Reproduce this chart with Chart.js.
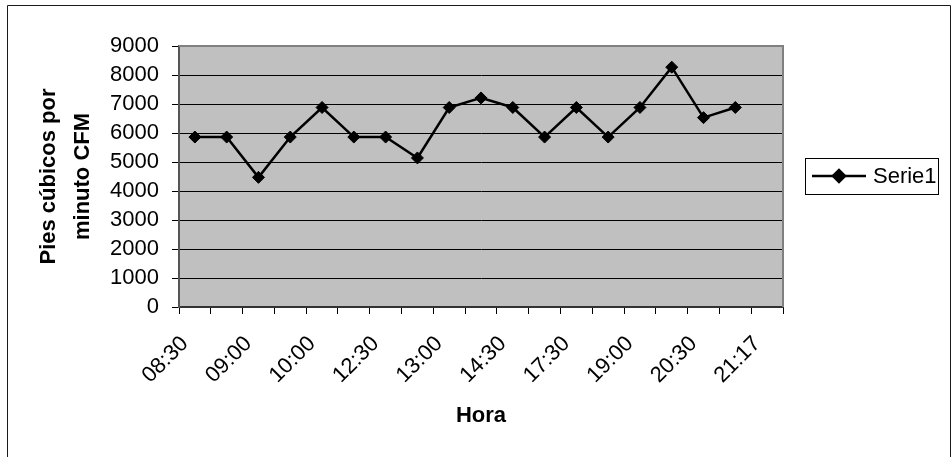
<!DOCTYPE html>
<html>
<head>
<meta charset="utf-8">
<script src="https://cdn.jsdelivr.net/npm/chart.js@4/dist/chart.umd.min.js"></script>
<style>
  html, body { margin: 0; padding: 0; background: #ffffff; }
  #wrap { width: 952px; height: 457px; position: relative; }
</style>
</head>
<body>
<div id="wrap"><canvas id="c" width="952" height="457"></canvas></div>
<script>
// Hour of each reading (only every other category is labelled on the axis)
const horas = ['08:30', '', '09:00', '', '10:00', '', '12:30', '', '13:00', '',
               '14:30', '', '17:30', '', '19:00', '', '20:30', '', '21:17'];

// Air flow, cubic feet per minute
const cfm = [5860, 5860, 4470, 5860, 6880, 5860, 5860, 5140, 6880, 7210,
             6880, 5860, 6880, 5860, 6880, 8270, 6530, 6880, null];

// Value axis ticks
const ticksY = [0, 1000, 2000, 3000, 4000, 5000, 6000, 7000, 8000, 9000];

const serieNombre = 'Serie1';
const tituloY = ['Pies cúbicos por', 'minuto CFM'];
const tituloX = 'Hora';

const FAMILY = "'Liberation Sans', Arial, Helvetica, sans-serif";

// grey plot background plus the outer frame of the chart
const plotBackground = {
  id: 'plotBackground',
  beforeDraw(chart) {
    const { ctx, chartArea: a } = chart;
    ctx.save();
    ctx.fillStyle = '#ffffff';
    ctx.fillRect(0, 0, chart.width, chart.height);
    ctx.fillStyle = '#c0c0c0';
    ctx.fillRect(a.left, a.top, a.right - a.left, a.bottom - a.top);
    ctx.strokeStyle = '#1a1a1a';
    ctx.lineWidth = 1;
    ctx.beginPath();
    ctx.moveTo(7.5, chart.height);
    ctx.lineTo(7.5, 5.5);
    ctx.lineTo(950.5, 5.5);
    ctx.lineTo(950.5, chart.height);
    ctx.stroke();
    ctx.restore();
  },
  beforeDatasetsDraw(chart) {
    // grey frame on the top and right of the plot area
    const { ctx, chartArea: a } = chart;
    ctx.save();
    ctx.strokeStyle = '#808080';
    ctx.lineWidth = 2;
    ctx.beginPath();
    ctx.moveTo(a.left, a.top);
    ctx.lineTo(a.right, a.top);
    ctx.lineTo(a.right, a.bottom);
    ctx.stroke();
    ctx.restore();
  }
};

// boxed legend at the right: line sample with a diamond marker
const boxedLegend = {
  id: 'boxedLegend',
  afterDraw(chart) {
    const { ctx } = chart;
    const ds = chart.data.datasets[0];
    const x = 805, y = 158, w = 133, h = 36;
    const cy = y + h / 2;
    ctx.save();
    ctx.fillStyle = '#ffffff';
    ctx.fillRect(x, y, w, h);
    ctx.strokeStyle = '#000000';
    ctx.lineWidth = 1;
    ctx.strokeRect(x + 0.5, y + 0.5, w, h);
    ctx.strokeStyle = ds.borderColor;
    ctx.lineWidth = ds.borderWidth;
    ctx.beginPath();
    ctx.moveTo(x + 7, cy);
    ctx.lineTo(x + 61, cy);
    ctx.stroke();
    Chart.helpers.drawPoint(ctx, {
      pointStyle: 'rectRot', radius: ds.pointRadius, borderWidth: 1
    }, x + 34, cy);
    ctx.fillStyle = '#000000';
    ctx.fill();
    ctx.font = '22px ' + FAMILY;
    ctx.textBaseline = 'middle';
    ctx.textAlign = 'left';
    ctx.fillText(ds.label, x + 68, cy + 1);
    ctx.restore();
  }
};

new Chart(document.getElementById('c'), {
  type: 'line',
  data: {
    labels: horas,
    datasets: [{
      label: serieNombre,
      data: cfm,
      borderColor: '#000000',
      backgroundColor: '#000000',
      borderWidth: 2.5,
      pointStyle: 'rectRot',
      pointRadius: 6,
      pointHoverRadius: 6,
      pointBackgroundColor: '#000000',
      pointBorderColor: '#000000',
      pointBorderWidth: 1,
      tension: 0,
      spanGaps: false
    }]
  },
  options: {
    responsive: false,
    animation: false,
    devicePixelRatio: 1,
    layout: { padding: { top: 46, right: 169, left: 0, bottom: 0 } },
    plugins: {
      legend: { display: false },
      tooltip: { enabled: false }
    },
    scales: {
      x: {
        type: 'category',
        offset: true,
        grid: {
          offset: true,
          drawOnChartArea: false,
          drawTicks: true,
          tickLength: 7,
          tickColor: '#000000',
          tickWidth: 1
        },
        border: { display: true, color: '#333333', width: 2 },
        ticks: {
          autoSkip: false,
          maxRotation: 45,
          minRotation: 45,
          padding: 17,
          labelOffset: -10,
          color: '#000000',
          font: { family: FAMILY, size: 22 }
        },
        title: {
          display: true,
          text: tituloX,
          color: '#000000',
          font: { family: FAMILY, size: 22, weight: 'bold' },
          padding: { top: 0, bottom: 28 }
        },
        afterFit(scale) { scale.height = 150; }
      },
      y: {
        min: ticksY[0],
        max: ticksY[ticksY.length - 1],
        afterBuildTicks(scale) {
          scale.ticks = ticksY.map(v => ({ value: v }));
        },
        grid: {
          color: '#000000',
          lineWidth: 1,
          drawTicks: true,
          tickLength: 7,
          tickColor: '#000000'
        },
        border: { display: true, color: '#555555', width: 2 },
        ticks: {
          autoSkip: false,
          padding: 13,
          color: '#000000',
          font: { family: FAMILY, size: 22 },
          callback: (v) => String(v)
        },
        title: {
          display: true,
          text: tituloY,
          color: '#000000',
          font: { family: FAMILY, size: 22, weight: 'bold', lineHeight: 34 / 22 },
          padding: { top: 32, bottom: 0 }
        },
        afterFit(scale) { scale.width = 179; }
      }
    }
  },
  plugins: [plotBackground, boxedLegend]
});
</script>
</body>
</html>
